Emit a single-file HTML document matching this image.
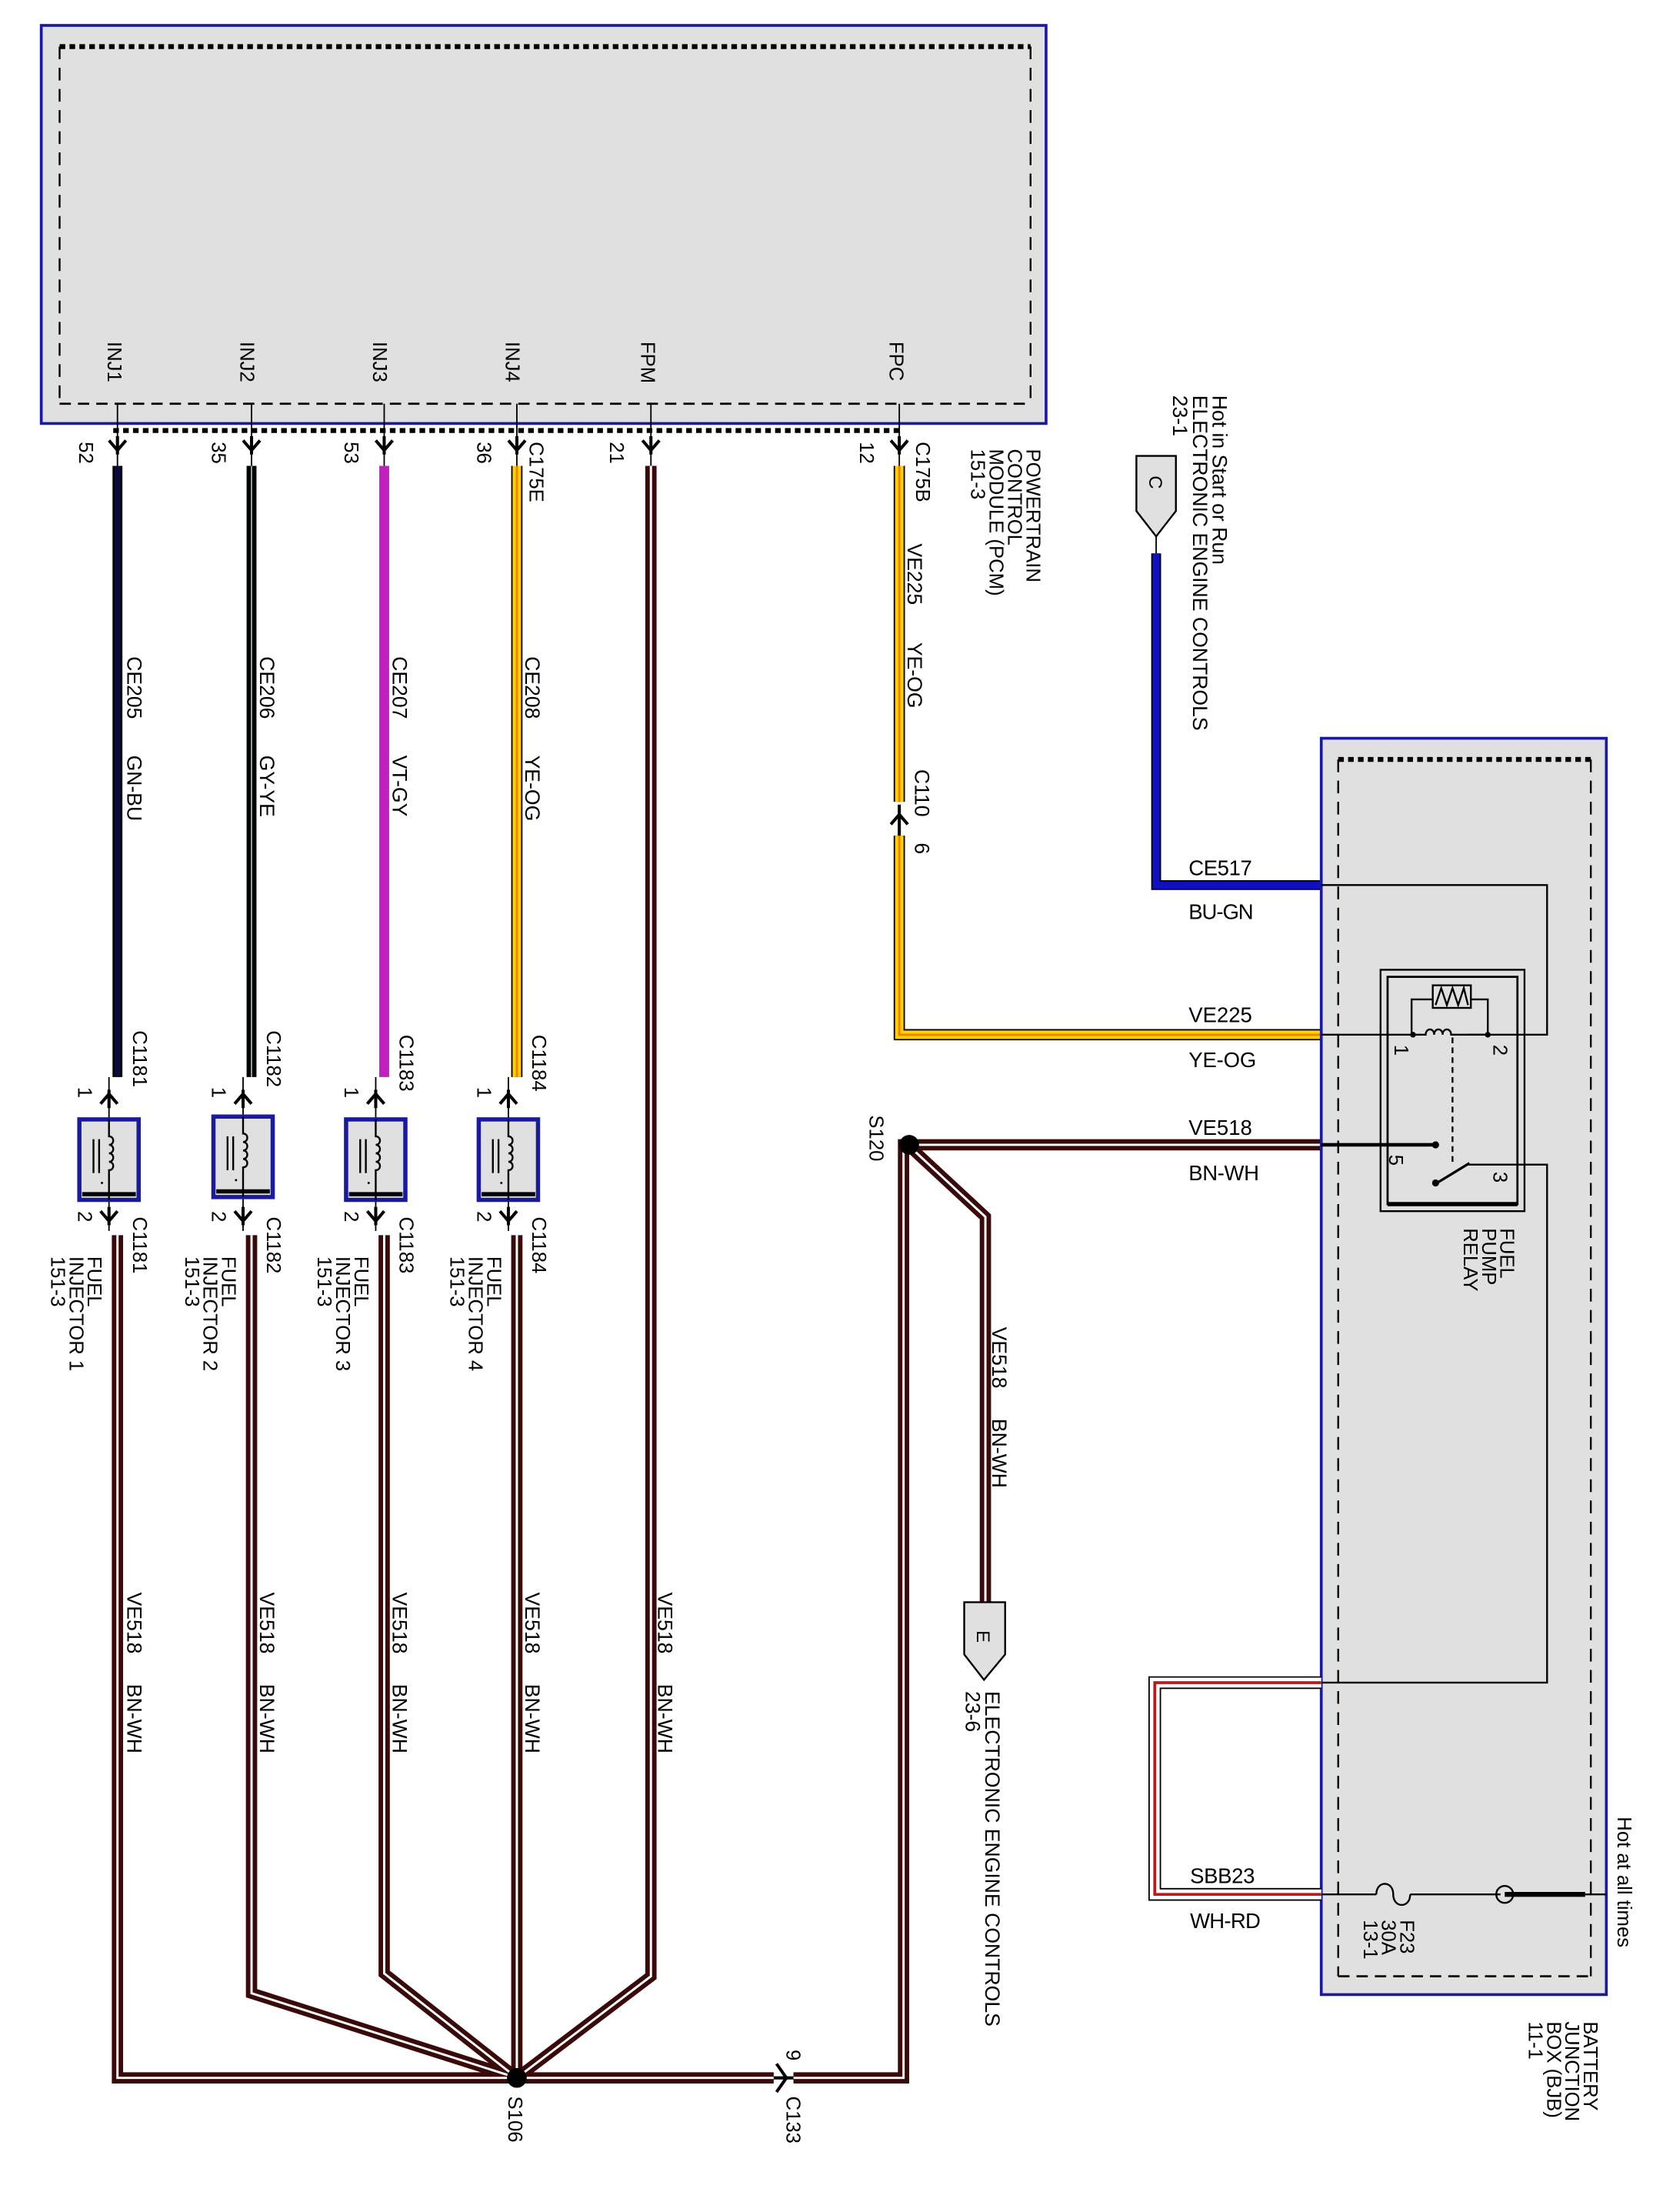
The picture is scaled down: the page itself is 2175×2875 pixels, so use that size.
<!DOCTYPE html>
<html><head><meta charset="utf-8"><style>
html,body{margin:0;padding:0;background:#fff}
svg{display:block}
text{font-family:"Liberation Sans",sans-serif;fill:#000}
</style></head><body>
<svg width="2175" height="2875" viewBox="0 0 1185 1567" xmlns="http://www.w3.org/2000/svg">
<defs>
<g id="inj">
<rect x="-21" y="0" width="42" height="57" fill="#e0e0e0" stroke="#1a1aa0" stroke-width="3"/>
<line x1="-19" y1="53" x2="19" y2="53" stroke="#000" stroke-width="3"/>
<path d="M0,0 V12 c4,0 4,6 0,6 c4,0 4,6 0,6 c4,0 4,6 0,6 c4,0 4,6 0,6 V57" fill="none" stroke="#000" stroke-width="1.3"/>
<line x1="-11" y1="14" x2="-11" y2="38" stroke="#000" stroke-width="1.3"/>
<line x1="-7" y1="14" x2="-7" y2="38" stroke="#000" stroke-width="1.3"/>
<circle cx="-5" cy="45" r="0.8" fill="#000"/>
</g>
<g id="chev"><path d="M-6,-6 L0,1 L6,-6 M0,-9 V4" fill="none" stroke="#000" stroke-width="2.2"/></g>
<g id="chevu"><path d="M-6,6 L0,-1 L6,6 M0,9 V-4" fill="none" stroke="#000" stroke-width="2.2"/></g>
</defs>

<rect x="29" y="18" width="712" height="282" fill="#e0e0e0" stroke="#1a1aa0" stroke-width="2"/>
<line x1="42" y1="33" x2="730" y2="33" stroke="#000" stroke-width="3.5" stroke-dasharray="4,3"/>
<line x1="42" y1="33" x2="42" y2="286" stroke="#000" stroke-width="1.3" stroke-dasharray="9,6"/>
<line x1="730" y1="33" x2="730" y2="286" stroke="#000" stroke-width="1.3" stroke-dasharray="9,6"/>
<line x1="42" y1="286" x2="730" y2="286" stroke="#000" stroke-width="1.5" stroke-dasharray="8,5"/>
<line x1="80" y1="305" x2="640" y2="305" stroke="#000" stroke-width="3.5" stroke-dasharray="4,3"/>

<g font-size="14">
<text transform="translate(76,242) rotate(90)">INJ1</text>
<text transform="translate(170,242) rotate(90)">INJ2</text>
<text transform="translate(264,242) rotate(90)">INJ3</text>
<text transform="translate(358,242) rotate(90)">INJ4</text>
<text transform="translate(454,242) rotate(90)">FPM</text>
<text transform="translate(630,242) rotate(90)">FPC</text>
<text transform="translate(56,313) rotate(90)">52</text>
<text transform="translate(150,313) rotate(90)">35</text>
<text transform="translate(244,313) rotate(90)">53</text>
<text transform="translate(338,313) rotate(90)">36</text>
<text transform="translate(432,313) rotate(90)">21</text>
<text transform="translate(609,313) rotate(90)">12</text>
<text transform="translate(375,313) rotate(90)">C175E</text>
<text transform="translate(649,313) rotate(90)">C175B</text>
<text transform="translate(727,318) rotate(90)">POWERTRAIN</text>
<text transform="translate(714,318) rotate(90)">CONTROL</text>
<text transform="translate(701,318) rotate(90)">MODULE (PCM)</text>
<text transform="translate(688,318) rotate(90)">151-3</text>
</g>

<g stroke="#000" stroke-width="1">
<line x1="83" y1="286" x2="83" y2="330"/><line x1="178" y1="286" x2="178" y2="330"/>
<line x1="272" y1="286" x2="272" y2="330"/><line x1="366" y1="286" x2="366" y2="330"/>
<line x1="461" y1="286" x2="461" y2="330"/><line x1="637" y1="286" x2="637" y2="330"/>
</g>
<use href="#chev" x="83" y="318"/><use href="#chev" x="178" y="318"/><use href="#chev" x="272" y="318"/>
<use href="#chev" x="366" y="318"/><use href="#chev" x="461" y="318"/><use href="#chev" x="637" y="318"/>

<line x1="83" y1="330" x2="83" y2="763" stroke="#000" stroke-width="7"/>
<line x1="83" y1="330" x2="83" y2="763" stroke="#0a0a40" stroke-width="4"/>
<line x1="178" y1="330" x2="178" y2="763" stroke="#000" stroke-width="7"/>
<line x1="178" y1="330" x2="178" y2="763" stroke="#9a9" stroke-width="1"/>
<line x1="272" y1="330" x2="272" y2="763" stroke="#c020c0" stroke-width="7"/>
<line x1="366" y1="330" x2="366" y2="763" stroke="#000" stroke-width="8"/>
<line x1="366" y1="330" x2="366" y2="763" stroke="#ffd000" stroke-width="6"/>
<line x1="366" y1="330" x2="366" y2="763" stroke="#f08000" stroke-width="1.5"/>

<g font-size="14.5">
<text transform="translate(90,465) rotate(90)">CE205<tspan x="70">GN-BU</tspan></text>
<text transform="translate(184,465) rotate(90)">CE206<tspan x="70">GY-YE</tspan></text>
<text transform="translate(278,465) rotate(90)">CE207<tspan x="70">VT-GY</tspan></text>
<text transform="translate(372,465) rotate(90)">CE208<tspan x="70">YE-OG</tspan></text>
</g>

<g font-size="14">
<line x1="77" y1="763" x2="77" y2="872" stroke="#000" stroke-width="1"/>
<use href="#chevu" x="77" y="776"/><use href="#inj" x="77" y="793"/><use href="#chev" x="77" y="864"/>
<text transform="translate(94,730) rotate(90)">C1181</text>
<text transform="translate(55,770) rotate(90)">1</text>
<text transform="translate(55,858) rotate(90)">2</text>
<text transform="translate(94,862) rotate(90)">C1181</text>
<text transform="translate(62,890) rotate(90)">FUEL</text>
<text transform="translate(49,890) rotate(90)">INJECTOR 1</text>
<text transform="translate(36,890) rotate(90)">151-3</text>
<line x1="172" y1="763" x2="172" y2="872" stroke="#000" stroke-width="1"/>
<use href="#chevu" x="172" y="776"/><use href="#inj" x="172" y="791"/><use href="#chev" x="172" y="864"/>
<text transform="translate(189,730) rotate(90)">C1182</text>
<text transform="translate(150,770) rotate(90)">1</text>
<text transform="translate(150,858) rotate(90)">2</text>
<text transform="translate(189,862) rotate(90)">C1182</text>
<text transform="translate(157,890) rotate(90)">FUEL</text>
<text transform="translate(144,890) rotate(90)">INJECTOR 2</text>
<text transform="translate(131,890) rotate(90)">151-3</text>
<line x1="266" y1="763" x2="266" y2="872" stroke="#000" stroke-width="1"/>
<use href="#chevu" x="266" y="776"/><use href="#inj" x="266" y="793"/><use href="#chev" x="266" y="864"/>
<text transform="translate(283,733) rotate(90)">C1183</text>
<text transform="translate(244,770) rotate(90)">1</text>
<text transform="translate(244,858) rotate(90)">2</text>
<text transform="translate(283,862) rotate(90)">C1183</text>
<text transform="translate(251,890) rotate(90)">FUEL</text>
<text transform="translate(238,890) rotate(90)">INJECTOR 3</text>
<text transform="translate(225,890) rotate(90)">151-3</text>
<line x1="360" y1="763" x2="360" y2="872" stroke="#000" stroke-width="1"/>
<use href="#chevu" x="360" y="776"/><use href="#inj" x="360" y="793"/><use href="#chev" x="360" y="864"/>
<text transform="translate(377,733) rotate(90)">C1184</text>
<text transform="translate(338,770) rotate(90)">1</text>
<text transform="translate(338,858) rotate(90)">2</text>
<text transform="translate(377,862) rotate(90)">C1184</text>
<text transform="translate(345,890) rotate(90)">FUEL</text>
<text transform="translate(332,890) rotate(90)">INJECTOR 4</text>
<text transform="translate(319,890) rotate(90)">151-3</text>
</g>

<g fill="none" stroke-linejoin="miter">
<g stroke="#3a0a0a" stroke-width="8">
<polyline points="83,875 83,1472 366,1472"/>
<polyline points="178,875 178,1412 366,1472"/>
<polyline points="272,875 272,1398 366,1472"/>
<polyline points="366,875 366,1472"/>
<polyline points="461,330 461,1400 366,1472"/>
<polyline points="366,1472 548,1472"/>
<polyline points="562,1472 640,1472 640,811 936,811"/>
<polyline points="643,811 698,862 698,1135"/>
</g>
<g stroke="#fff" stroke-width="1.6">
<polyline points="83,875 83,1472 366,1472"/>
<polyline points="178,875 178,1412 366,1472"/>
<polyline points="272,875 272,1398 366,1472"/>
<polyline points="366,875 366,1472"/>
<polyline points="461,330 461,1400 366,1472"/>
<polyline points="366,1472 548,1472"/>
<polyline points="562,1472 640,1472 640,811 936,811"/>
<polyline points="643,811 698,862 698,1135"/>
</g>
</g>
<circle cx="366" cy="1472" r="7" fill="#000"/>
<circle cx="644" cy="811" r="7" fill="#000"/>
<path d="M550,1462 L557,1472 L550,1482 M548,1472 H562" fill="none" stroke="#000" stroke-width="2.2"/>

<g font-size="14.5">
<text transform="translate(90,1128) rotate(90)">VE518<tspan x="65">BN-WH</tspan></text>
<text transform="translate(184,1128) rotate(90)">VE518<tspan x="65">BN-WH</tspan></text>
<text transform="translate(278,1128) rotate(90)">VE518<tspan x="65">BN-WH</tspan></text>
<text transform="translate(372,1128) rotate(90)">VE518<tspan x="65">BN-WH</tspan></text>
<text transform="translate(466,1128) rotate(90)">VE518<tspan x="65">BN-WH</tspan></text>
<text transform="translate(703,940) rotate(90)">VE518<tspan x="65">BN-WH</tspan></text>
</g>
<g font-size="14">
<text transform="translate(360,1485) rotate(90)">S106</text>
<text transform="translate(557,1485) rotate(90)">C133</text>
<text transform="translate(557,1452) rotate(90)">9</text>
<text transform="translate(616,790) rotate(90)">S120</text>
</g>

<path d="M683,1135 H712 V1172 L697,1190 L683,1172 Z" fill="#e0e0e0" stroke="#000" stroke-width="1.3"/>
<text transform="translate(692,1155) rotate(90)" font-size="13">E</text>
<g font-size="14.5">
<text transform="translate(698,1198) rotate(90)">ELECTRONIC ENGINE CONTROLS</text>
<text transform="translate(684,1198) rotate(90)">23-6</text>
</g>

<polyline points="637,330 637,568" fill="none" stroke="#000" stroke-width="8"/>
<polyline points="637,330 637,568" fill="none" stroke="#ffd000" stroke-width="6"/>
<polyline points="637,330 637,568" fill="none" stroke="#f08000" stroke-width="1.5"/>
<polyline points="637,592 637,733 936,733" fill="none" stroke="#000" stroke-width="8"/>
<polyline points="637,592 637,733 936,733" fill="none" stroke="#ffd000" stroke-width="6"/>
<polyline points="637,592 637,733 936,733" fill="none" stroke="#f08000" stroke-width="1.5"/>
<path d="M631,584 L637,577 L643,584 M637,570 V592" fill="none" stroke="#000" stroke-width="2.2"/>
<g font-size="14.5">
<text transform="translate(643,385) rotate(90)">VE225<tspan x="70">YE-OG</tspan></text>
<text transform="translate(648,545) rotate(90)">C110</text>
<text transform="translate(648,597) rotate(90)">6</text>
</g>

<path d="M805,323 H833 V362 L819,380 L805,362 Z" fill="#e0e0e0" stroke="#000" stroke-width="1.3"/>
<text transform="translate(814,337) rotate(90)" font-size="13">C</text>
<line x1="819" y1="380" x2="819" y2="392" stroke="#000" stroke-width="1"/>
<polyline points="819,392 819,627 936,627" fill="none" stroke="#000" stroke-width="7"/>
<polyline points="819,392 819,627 936,627" fill="none" stroke="#1010c0" stroke-width="5"/>
<g font-size="14.5">
<text transform="translate(859,280) rotate(90)">Hot in Start or Run</text>
<text transform="translate(845,280) rotate(90)">ELECTRONIC ENGINE CONTROLS</text>
<text transform="translate(831,280) rotate(90)">23-1</text>
</g>

<rect x="936" y="523" width="202" height="890" fill="#e0e0e0" stroke="#1a1aa0" stroke-width="2"/>
<line x1="948" y1="538" x2="1127" y2="538" stroke="#000" stroke-width="3.5" stroke-dasharray="4,3"/>
<line x1="948" y1="538" x2="948" y2="1400" stroke="#000" stroke-width="1.3" stroke-dasharray="9,6"/>
<line x1="1127" y1="538" x2="1127" y2="1400" stroke="#000" stroke-width="1.3" stroke-dasharray="9,6"/>
<line x1="948" y1="1400" x2="1127" y2="1400" stroke="#000" stroke-width="1.5" stroke-dasharray="8,5"/>

<rect x="978" y="687" width="102" height="171" fill="none" stroke="#000" stroke-width="1.3"/>
<rect x="983" y="692" width="92" height="161" fill="none" stroke="#000" stroke-width="1.5"/>
<line x1="983" y1="853" x2="1075" y2="853" stroke="#000" stroke-width="3"/>
<g stroke="#000" stroke-width="1.3" fill="none">
<polyline points="936,627 1096,627 1096,733 1040,733"/>
<line x1="936" y1="733" x2="1000" y2="733"/>
<polyline points="1000,733 1000,708 1015,708"/>
<rect x="1015" y="698" width="27" height="16"/>
<path d="M1017,712 L1021,700 L1025,712 L1029,700 L1033,712 L1037,700 L1040,712"/>
<polyline points="1042,708 1054,708 1054,733"/>
<path d="M1000,733 H1010 c0,-5 6,-5 6,0 c0,-5 6,-5 6,0 c0,-5 6,-5 6,0 H1054"/>
<line x1="1029" y1="735" x2="1029" y2="825" stroke-dasharray="4,3"/>
<line x1="936" y1="811" x2="1017" y2="811" stroke-width="2.5"/>
<line x1="1018" y1="838" x2="1041" y2="824" stroke-width="1.8"/>
<polyline points="1040,825 1096,825 1096,1192 936,1192"/>
<line x1="936" y1="1342" x2="975" y2="1342"/>
<path d="M975,1342 c0,-10 12,-10 12,0 c0,10 12,10 12,0"/>
<line x1="999" y1="1342" x2="1063" y2="1342"/>
<circle cx="1066" cy="1342" r="6"/>
<line x1="1123" y1="1342" x2="1138" y2="1342"/>
</g>
<line x1="1066" y1="1342" x2="1123" y2="1342" stroke="#000" stroke-width="3.5"/>
<circle cx="1001" cy="733" r="2" fill="#000"/><circle cx="1054" cy="733" r="2" fill="#000"/>
<circle cx="1017" cy="811" r="2.5" fill="#000"/><circle cx="1017" cy="838" r="2.5" fill="#000"/>
<g font-size="14">
<text transform="translate(988,740) rotate(90)">1</text>
<text transform="translate(1058,740) rotate(90)">2</text>
<text transform="translate(984,818) rotate(90)">5</text>
<text transform="translate(1058,830) rotate(90)">3</text>
<text transform="translate(1063,870) rotate(90)">FUEL</text>
<text transform="translate(1050,870) rotate(90)">PUMP</text>
<text transform="translate(1037,870) rotate(90)">RELAY</text>
<text transform="translate(992,1360) rotate(90)">F23</text>
<text transform="translate(979,1360) rotate(90)">30A</text>
<text transform="translate(966,1360) rotate(90)">13-1</text>
<text transform="translate(1146,1287) rotate(90)">Hot at all times</text>
<text transform="translate(1122,1432) rotate(90)">BATTERY</text>
<text transform="translate(1109,1432) rotate(90)">JUNCTION</text>
<text transform="translate(1096,1432) rotate(90)">BOX (BJB)</text>
<text transform="translate(1083,1432) rotate(90)">11-1</text>
</g>

<polyline points="936,1192 818,1192 818,1342 936,1342" fill="none" stroke="#000" stroke-width="9"/>
<polyline points="936,1192 818,1192 818,1342 936,1342" fill="none" stroke="#fff" stroke-width="7"/>
<polyline points="936,1192 818,1192 818,1342 936,1342" fill="none" stroke="#c01818" stroke-width="2"/>

<g font-size="15">
<text x="842" y="620" textLength="45">CE517</text>
<text x="842" y="651" textLength="46">BU-GN</text>
<text x="842" y="724" textLength="45">VE225</text>
<text x="842" y="756" textLength="48">YE-OG</text>
<text x="842" y="804" textLength="45">VE518</text>
<text x="842" y="836" textLength="50">BN-WH</text>
<text x="843" y="1334" textLength="46">SBB23</text>
<text x="843" y="1366" textLength="50">WH-RD</text>
</g>
</svg>
</body></html>
